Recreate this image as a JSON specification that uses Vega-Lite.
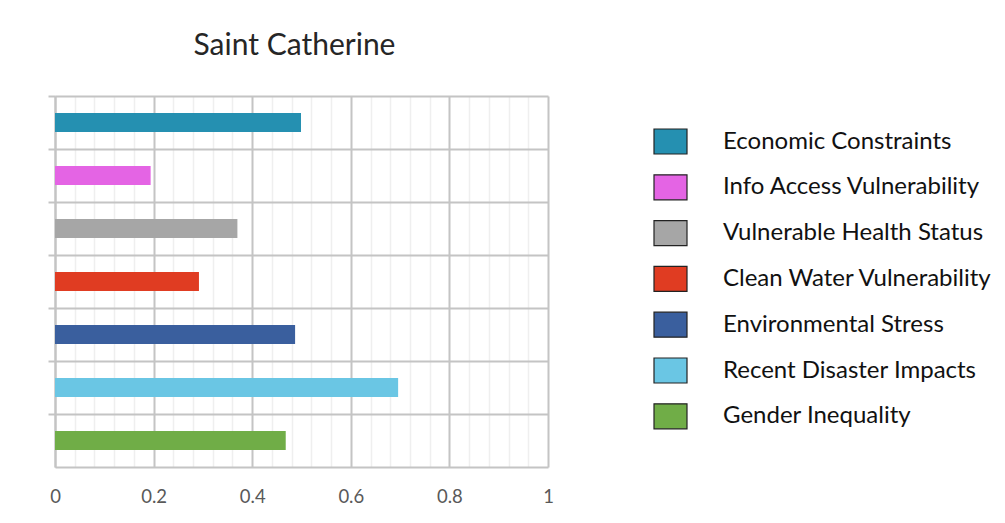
{
  "$schema": "https://vega.github.io/schema/vega-lite/v6.json",
  "width": 493,
  "height": 371,
  "autosize": "none",
  "padding": {"left": 55, "top": 96, "right": 457, "bottom": 56},
  "background": "white",
  "config": {"view": {"stroke": null}, "font": "Lato"},
  "title": {
    "text": "Saint Catherine",
    "fontSize": 30,
    "font": "Lato",
    "fontWeight": "normal",
    "color": "#262626",
    "anchor": "middle",
    "offset": 34,
    "dx": -7
  },
  "data": {
    "values": [
      {"category": "Economic Constraints", "value": 0.499},
      {"category": "Info Access Vulnerability", "value": 0.194},
      {"category": "Vulnerable Health Status", "value": 0.37},
      {"category": "Clean Water Vulnerability", "value": 0.292},
      {"category": "Environmental Stress", "value": 0.487},
      {"category": "Recent Disaster Impacts", "value": 0.696},
      {"category": "Gender Inequality", "value": 0.468}
    ]
  },
  "mark": {"type": "bar", "height": {"band": 0.36}},
  "encoding": {
    "x": {
      "field": "value",
      "type": "quantitative",
      "scale": {"domain": [0, 1], "nice": false},
      "axis": {
        "title": null,
        "values": [0, 0.04, 0.08, 0.12, 0.16, 0.2, 0.24, 0.28, 0.32, 0.36, 0.4, 0.44, 0.48, 0.52, 0.56, 0.6, 0.64, 0.68, 0.72, 0.76, 0.8, 0.84, 0.88, 0.92, 0.96, 1],
        "grid": true,
        "gridColor": {"condition": {"test": "abs(datum.value*5 - round(datum.value*5)) < 0.001", "value": "#c4c4c4"}, "value": "#efefef"},
        "gridWidth": {"condition": {"test": "abs(datum.value*5 - round(datum.value*5)) < 0.001", "value": 2}, "value": 1.5},
        "ticks": false,
        "domainColor": "#c4c4c4",
        "domainWidth": 2,
        "labelExpr": "abs(datum.value*5 - round(datum.value*5)) < 0.001 ? format(datum.value, '~g') : ''",
        "labelFlush": false,
        "labelFontSize": 18.5,
        "labelColor": "#595959",
        "labelPadding": 20,
        "labelFont": "Lato"
      }
    },
    "y": {
      "field": "category",
      "type": "nominal",
      "sort": ["Economic Constraints", "Info Access Vulnerability", "Vulnerable Health Status", "Clean Water Vulnerability", "Environmental Stress", "Recent Disaster Impacts", "Gender Inequality"],
      "scale": {"paddingInner": 0, "paddingOuter": 0},
      "axis": {
        "title": null,
        "labels": false,
        "bandPosition": 0,
        "grid": true,
        "gridColor": "#c4c4c4",
        "gridWidth": 2,
        "ticks": true,
        "tickSize": 7,
        "tickColor": "#c4c4c4",
        "tickWidth": 2,
        "domainColor": "#c4c4c4",
        "domainWidth": 2
      }
    },
    "color": {
      "field": "category",
      "type": "nominal",
      "scale": {
        "domain": ["Economic Constraints", "Info Access Vulnerability", "Vulnerable Health Status", "Clean Water Vulnerability", "Environmental Stress", "Recent Disaster Impacts", "Gender Inequality"],
        "range": ["#2590b1", "#e464e4", "#a6a6a6", "#e03c22", "#3a5f9e", "#6ac6e4", "#70ad47"]
      },
      "legend": {
        "title": null,
        "orient": "none",
        "legendX": 602,
        "legendY": 32,
        "symbolType": "M-1.32,-1H1.32V1H-1.32Z",
        "symbolSize": 625,
        "symbolStrokeColor": "#222222",
        "symbolStrokeWidth": 1.2,
        "symbolOpacity": 1,
        "labelFontSize": 24,
        "labelFont": "Lato",
        "labelColor": "#111111",
        "labelOffset": 39,
        "rowPadding": 14.8,
        "labelLimit": 400
      }
    }
  }
}
